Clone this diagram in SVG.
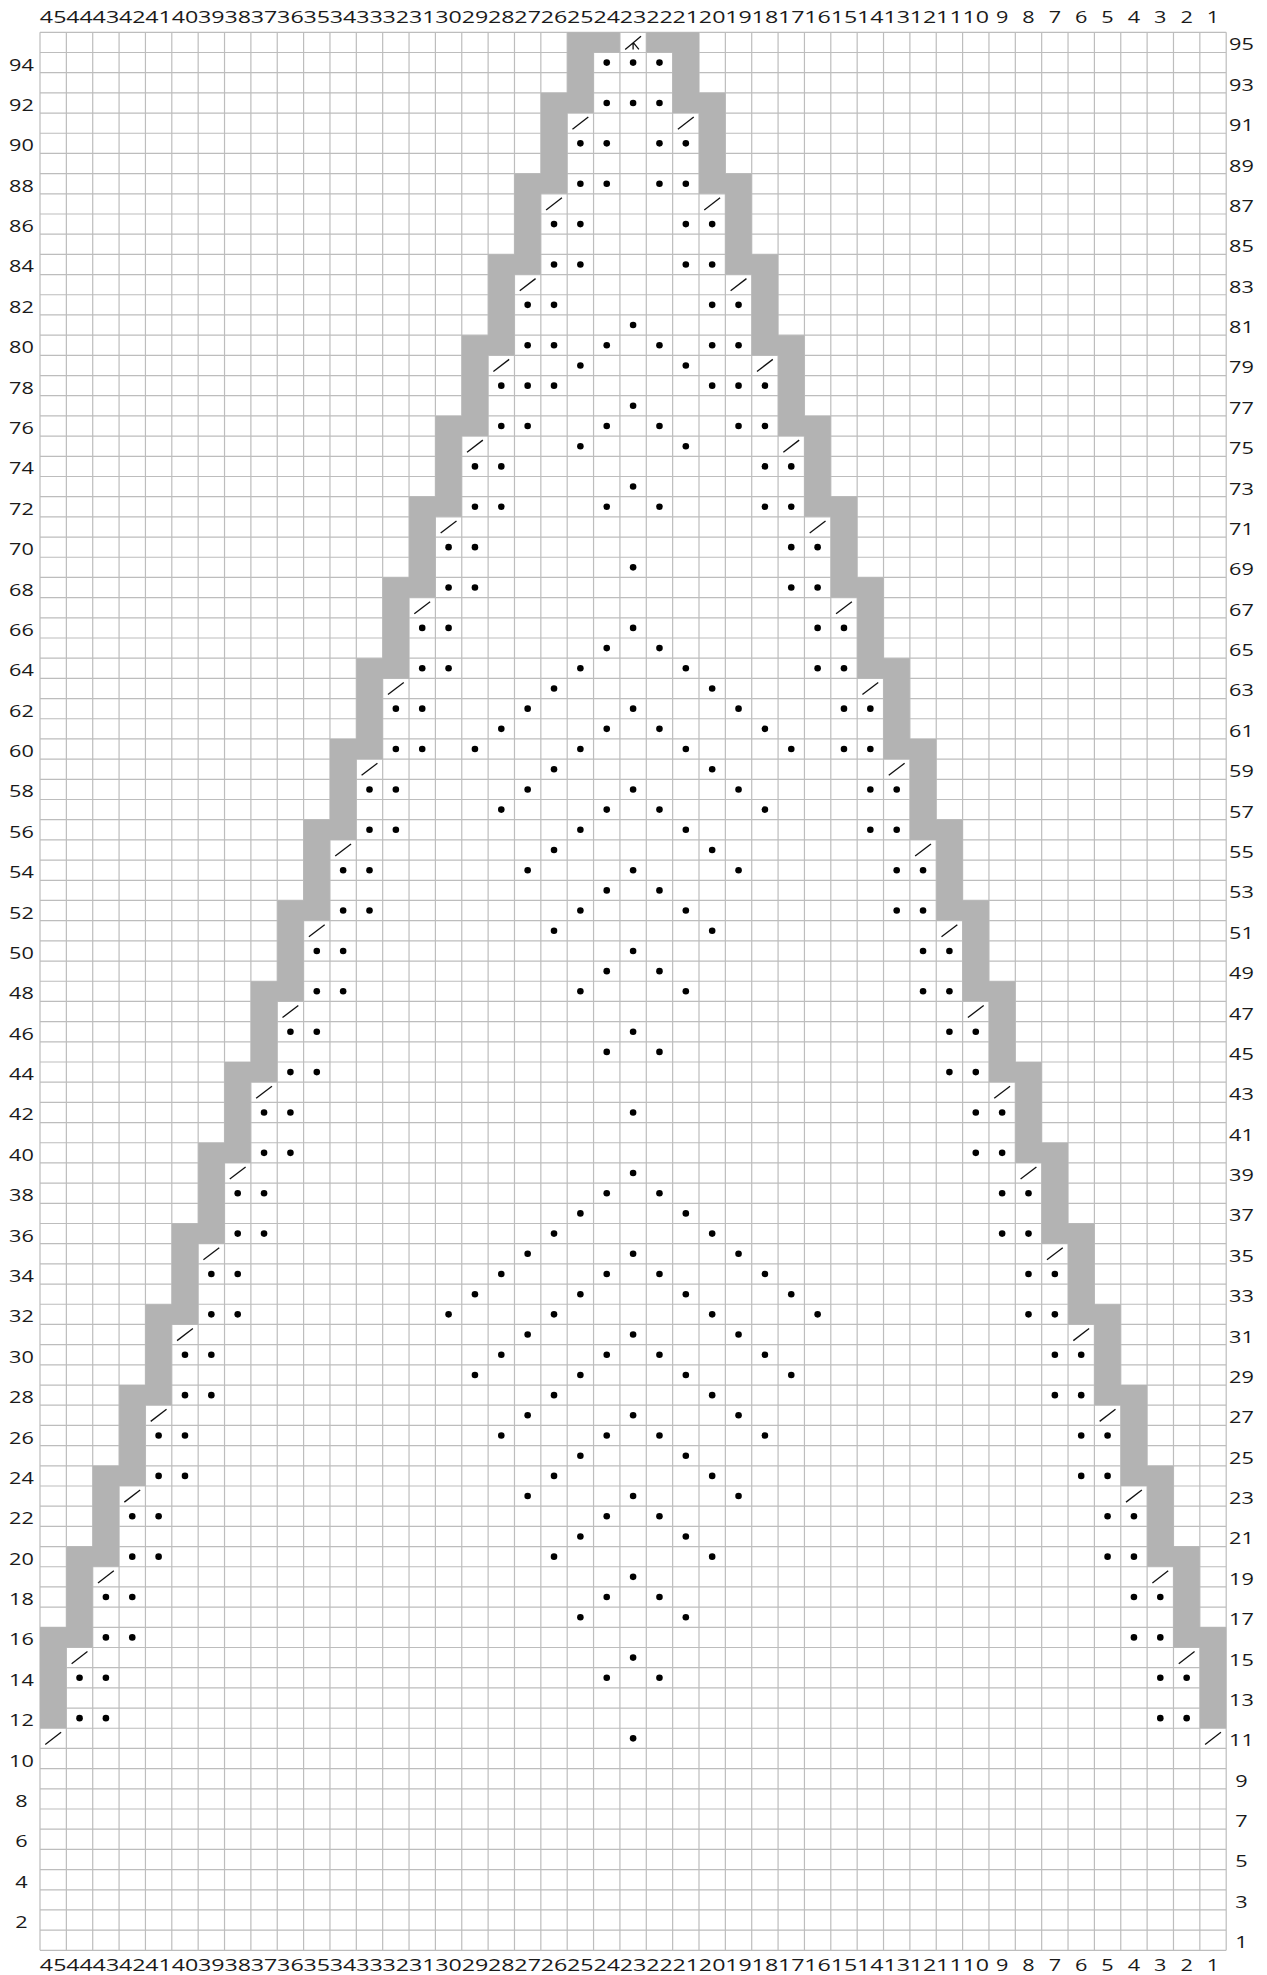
<svg xmlns="http://www.w3.org/2000/svg" xmlns:xlink="http://www.w3.org/1999/xlink" width="1267" height="1975" viewBox="0 0 1267 1975">
<style>
text{font-family:"Open Sans","Noto Sans","Liberation Sans",sans-serif;font-size:15.5px;fill:#1a1a1a;text-anchor:middle}
.c2{transform-box:fill-box;transform-origin:center;transform:scaleX(1.5)}
.c1{transform-box:fill-box;transform-origin:center;transform:scaleX(1.4)}
.gl{fill:none;stroke:#bdbdbd;stroke-width:1.2px}
.nss{vector-effect:non-scaling-stroke}
</style>
<defs>
<ellipse id="d" rx="0.125" ry="0.163" fill="#000"/>
<g id="p"><use href="#d"/><use href="#d" x="1"/></g>
<path id="s" d="M-0.3 0.3L0.3-0.3" fill="none" stroke="#111" stroke-width="1.3" vector-effect="non-scaling-stroke"/>
</defs>
<rect width="1267" height="1975" fill="#fff"/>
<g id="chart" transform="translate(40 32.3) scale(26.36 20.19)">
<g id="grid">
<path class="gl nss" d="M0 0V95M1 0V95M2 0V95M3 0V95M4 0V95M5 0V95M6 0V95M7 0V95M8 0V95M9 0V95M10 0V95M11 0V95M12 0V95M13 0V95M14 0V95M15 0V95M16 0V95M17 0V95M18 0V95M19 0V95M20 0V95M21 0V95M22 0V95M23 0V95M24 0V95M25 0V95M26 0V95M27 0V95M28 0V95M29 0V95M30 0V95M31 0V95M32 0V95M33 0V95M34 0V95M35 0V95M36 0V95M37 0V95M38 0V95M39 0V95M40 0V95M41 0V95M42 0V95M43 0V95M44 0V95M45 0V95M0 0H45M0 1H45M0 2H45M0 3H45M0 4H45M0 5H45M0 6H45M0 7H45M0 8H45M0 9H45M0 10H45M0 11H45M0 12H45M0 13H45M0 14H45M0 15H45M0 16H45M0 17H45M0 18H45M0 19H45M0 20H45M0 21H45M0 22H45M0 23H45M0 24H45M0 25H45M0 26H45M0 27H45M0 28H45M0 29H45M0 30H45M0 31H45M0 32H45M0 33H45M0 34H45M0 35H45M0 36H45M0 37H45M0 38H45M0 39H45M0 40H45M0 41H45M0 42H45M0 43H45M0 44H45M0 45H45M0 46H45M0 47H45M0 48H45M0 49H45M0 50H45M0 51H45M0 52H45M0 53H45M0 54H45M0 55H45M0 56H45M0 57H45M0 58H45M0 59H45M0 60H45M0 61H45M0 62H45M0 63H45M0 64H45M0 65H45M0 66H45M0 67H45M0 68H45M0 69H45M0 70H45M0 71H45M0 72H45M0 73H45M0 74H45M0 75H45M0 76H45M0 77H45M0 78H45M0 79H45M0 80H45M0 81H45M0 82H45M0 83H45M0 84H45M0 85H45M0 86H45M0 87H45M0 88H45M0 89H45M0 90H45M0 91H45M0 92H45M0 93H45M0 94H45M0 95H45"/>
</g>
<g id="no-stitch">
<path fill="#b3b3b3" d="M0 79h1v5h-1zM1 75h1v5h-1zM2 71h1v5h-1zM3 67h1v5h-1zM4 63h1v5h-1zM5 59h1v5h-1zM6 55h1v5h-1zM7 51h1v5h-1zM8 47h1v5h-1zM9 43h1v5h-1zM10 39h1v5h-1zM11 35h1v5h-1zM12 31h1v5h-1zM13 27h1v5h-1zM14 23h1v5h-1zM15 19h1v5h-1zM16 15h1v5h-1zM17 11h1v5h-1zM18 7h1v5h-1zM19 3h1v5h-1zM20 0h2v1h-1v3h-1zM44 79h1v5h-1zM43 75h1v5h-1zM42 71h1v5h-1zM41 67h1v5h-1zM40 63h1v5h-1zM39 59h1v5h-1zM38 55h1v5h-1zM37 51h1v5h-1zM36 47h1v5h-1zM35 43h1v5h-1zM34 39h1v5h-1zM33 35h1v5h-1zM32 31h1v5h-1zM31 27h1v5h-1zM30 23h1v5h-1zM29 19h1v5h-1zM28 15h1v5h-1zM27 11h1v5h-1zM26 7h1v5h-1zM25 3h1v5h-1zM23 0h2v4h-1v-3h-1z"/>
</g>
<g id="decreases">
<use href="#s" x="0.5" y="84.5"/><use href="#s" x="44.5" y="84.5"/>
<use href="#s" x="1.5" y="80.5"/><use href="#s" x="43.5" y="80.5"/>
<use href="#s" x="2.5" y="76.5"/><use href="#s" x="42.5" y="76.5"/>
<use href="#s" x="3.5" y="72.5"/><use href="#s" x="41.5" y="72.5"/>
<use href="#s" x="4.5" y="68.5"/><use href="#s" x="40.5" y="68.5"/>
<use href="#s" x="5.5" y="64.5"/><use href="#s" x="39.5" y="64.5"/>
<use href="#s" x="6.5" y="60.5"/><use href="#s" x="38.5" y="60.5"/>
<use href="#s" x="7.5" y="56.5"/><use href="#s" x="37.5" y="56.5"/>
<use href="#s" x="8.5" y="52.5"/><use href="#s" x="36.5" y="52.5"/>
<use href="#s" x="9.5" y="48.5"/><use href="#s" x="35.5" y="48.5"/>
<use href="#s" x="10.5" y="44.5"/><use href="#s" x="34.5" y="44.5"/>
<use href="#s" x="11.5" y="40.5"/><use href="#s" x="33.5" y="40.5"/>
<use href="#s" x="12.5" y="36.5"/><use href="#s" x="32.5" y="36.5"/>
<use href="#s" x="13.5" y="32.5"/><use href="#s" x="31.5" y="32.5"/>
<use href="#s" x="14.5" y="28.5"/><use href="#s" x="30.5" y="28.5"/>
<use href="#s" x="15.5" y="24.5"/><use href="#s" x="29.5" y="24.5"/>
<use href="#s" x="16.5" y="20.5"/><use href="#s" x="28.5" y="20.5"/>
<use href="#s" x="17.5" y="16.5"/><use href="#s" x="27.5" y="16.5"/>
<use href="#s" x="18.5" y="12.5"/><use href="#s" x="26.5" y="12.5"/>
<use href="#s" x="19.5" y="8.5"/><use href="#s" x="25.5" y="8.5"/>
<use href="#s" x="20.5" y="4.5"/><use href="#s" x="24.5" y="4.5"/>
<path d="M22.2 0.85L22.8 0.2M22.5 0.5V0.85M22.5 0.5L22.72 0.85" fill="none" stroke="#111" stroke-width="1.3" vector-effect="non-scaling-stroke"/>
</g>
<g id="edge-purls">
<use href="#p" x="1.5" y="83.5"/><use href="#p" x="1.5" y="81.5"/><use href="#p" x="42.5" y="83.5"/><use href="#p" x="42.5" y="81.5"/>
<use href="#p" x="2.5" y="79.5"/><use href="#p" x="2.5" y="77.5"/><use href="#p" x="41.5" y="79.5"/><use href="#p" x="41.5" y="77.5"/>
<use href="#p" x="3.5" y="75.5"/><use href="#p" x="3.5" y="73.5"/><use href="#p" x="40.5" y="75.5"/><use href="#p" x="40.5" y="73.5"/>
<use href="#p" x="4.5" y="71.5"/><use href="#p" x="4.5" y="69.5"/><use href="#p" x="39.5" y="71.5"/><use href="#p" x="39.5" y="69.5"/>
<use href="#p" x="5.5" y="67.5"/><use href="#p" x="5.5" y="65.5"/><use href="#p" x="38.5" y="67.5"/><use href="#p" x="38.5" y="65.5"/>
<use href="#p" x="6.5" y="63.5"/><use href="#p" x="6.5" y="61.5"/><use href="#p" x="37.5" y="63.5"/><use href="#p" x="37.5" y="61.5"/>
<use href="#p" x="7.5" y="59.5"/><use href="#p" x="7.5" y="57.5"/><use href="#p" x="36.5" y="59.5"/><use href="#p" x="36.5" y="57.5"/>
<use href="#p" x="8.5" y="55.5"/><use href="#p" x="8.5" y="53.5"/><use href="#p" x="35.5" y="55.5"/><use href="#p" x="35.5" y="53.5"/>
<use href="#p" x="9.5" y="51.5"/><use href="#p" x="9.5" y="49.5"/><use href="#p" x="34.5" y="51.5"/><use href="#p" x="34.5" y="49.5"/>
<use href="#p" x="10.5" y="47.5"/><use href="#p" x="10.5" y="45.5"/><use href="#p" x="33.5" y="47.5"/><use href="#p" x="33.5" y="45.5"/>
<use href="#p" x="11.5" y="43.5"/><use href="#p" x="11.5" y="41.5"/><use href="#p" x="32.5" y="43.5"/><use href="#p" x="32.5" y="41.5"/>
<use href="#p" x="12.5" y="39.5"/><use href="#p" x="12.5" y="37.5"/><use href="#p" x="31.5" y="39.5"/><use href="#p" x="31.5" y="37.5"/>
<use href="#p" x="13.5" y="35.5"/><use href="#p" x="13.5" y="33.5"/><use href="#p" x="30.5" y="35.5"/><use href="#p" x="30.5" y="33.5"/>
<use href="#p" x="14.5" y="31.5"/><use href="#p" x="14.5" y="29.5"/><use href="#p" x="29.5" y="31.5"/><use href="#p" x="29.5" y="29.5"/>
<use href="#p" x="15.5" y="27.5"/><use href="#p" x="15.5" y="25.5"/><use href="#p" x="28.5" y="27.5"/><use href="#p" x="28.5" y="25.5"/>
<use href="#p" x="16.5" y="23.5"/><use href="#p" x="16.5" y="21.5"/><use href="#p" x="27.5" y="23.5"/><use href="#p" x="27.5" y="21.5"/>
<use href="#p" x="17.5" y="19.5"/><use href="#p" x="17.5" y="17.5"/><use href="#p" x="26.5" y="19.5"/><use href="#p" x="26.5" y="17.5"/>
<use href="#p" x="18.5" y="15.5"/><use href="#p" x="18.5" y="13.5"/><use href="#p" x="25.5" y="15.5"/><use href="#p" x="25.5" y="13.5"/>
<use href="#p" x="19.5" y="11.5"/><use href="#p" x="19.5" y="9.5"/><use href="#p" x="24.5" y="11.5"/><use href="#p" x="24.5" y="9.5"/>
<use href="#p" x="20.5" y="7.5"/><use href="#p" x="20.5" y="5.5"/><use href="#p" x="23.5" y="7.5"/><use href="#p" x="23.5" y="5.5"/>
<use href="#p" x="21.5" y="3.5"/><use href="#p" x="21.5" y="1.5"/><use href="#d" x="23.5" y="3.5"/><use href="#d" x="23.5" y="1.5"/>
</g>
<g id="lace-purls">
<use href="#d" x="22.5" y="84.5"/>
<use href="#d" x="21.5" y="81.5"/><use href="#d" x="23.5" y="81.5"/>
<use href="#d" x="22.5" y="80.5"/>
<use href="#d" x="20.5" y="78.5"/><use href="#d" x="24.5" y="78.5"/>
<use href="#d" x="21.5" y="77.5"/><use href="#d" x="23.5" y="77.5"/>
<use href="#d" x="22.5" y="76.5"/>
<use href="#d" x="19.5" y="75.5"/><use href="#d" x="25.5" y="75.5"/>
<use href="#d" x="20.5" y="74.5"/><use href="#d" x="24.5" y="74.5"/>
<use href="#d" x="21.5" y="73.5"/><use href="#d" x="23.5" y="73.5"/>
<use href="#d" x="18.5" y="72.5"/><use href="#d" x="22.5" y="72.5"/><use href="#d" x="26.5" y="72.5"/>
<use href="#d" x="19.5" y="71.5"/><use href="#d" x="25.5" y="71.5"/>
<use href="#d" x="20.5" y="70.5"/><use href="#d" x="24.5" y="70.5"/>
<use href="#d" x="17.5" y="69.5"/><use href="#d" x="21.5" y="69.5"/><use href="#d" x="23.5" y="69.5"/><use href="#d" x="27.5" y="69.5"/>
<use href="#d" x="18.5" y="68.5"/><use href="#d" x="22.5" y="68.5"/><use href="#d" x="26.5" y="68.5"/>
<use href="#d" x="19.5" y="67.5"/><use href="#d" x="25.5" y="67.5"/>
<use href="#d" x="16.5" y="66.5"/><use href="#d" x="20.5" y="66.5"/><use href="#d" x="24.5" y="66.5"/><use href="#d" x="28.5" y="66.5"/>
<use href="#d" x="17.5" y="65.5"/><use href="#d" x="21.5" y="65.5"/><use href="#d" x="23.5" y="65.5"/><use href="#d" x="27.5" y="65.5"/>
<use href="#d" x="18.5" y="64.5"/><use href="#d" x="22.5" y="64.5"/><use href="#d" x="26.5" y="64.5"/>
<use href="#d" x="15.5" y="63.5"/><use href="#d" x="19.5" y="63.5"/><use href="#d" x="25.5" y="63.5"/><use href="#d" x="29.5" y="63.5"/>
<use href="#d" x="16.5" y="62.5"/><use href="#d" x="20.5" y="62.5"/><use href="#d" x="24.5" y="62.5"/><use href="#d" x="28.5" y="62.5"/>
<use href="#d" x="17.5" y="61.5"/><use href="#d" x="21.5" y="61.5"/><use href="#d" x="23.5" y="61.5"/><use href="#d" x="27.5" y="61.5"/>
<use href="#d" x="18.5" y="60.5"/><use href="#d" x="22.5" y="60.5"/><use href="#d" x="26.5" y="60.5"/>
<use href="#d" x="19.5" y="59.5"/><use href="#d" x="25.5" y="59.5"/>
<use href="#d" x="20.5" y="58.5"/><use href="#d" x="24.5" y="58.5"/>
<use href="#d" x="21.5" y="57.5"/><use href="#d" x="23.5" y="57.5"/>
<use href="#d" x="22.5" y="56.5"/>
<use href="#d" x="22.5" y="53.5"/>
<use href="#d" x="21.5" y="50.5"/><use href="#d" x="23.5" y="50.5"/>
<use href="#d" x="22.5" y="49.5"/>
<use href="#d" x="20.5" y="47.5"/><use href="#d" x="24.5" y="47.5"/>
<use href="#d" x="21.5" y="46.5"/><use href="#d" x="23.5" y="46.5"/>
<use href="#d" x="22.5" y="45.5"/>
<use href="#d" x="19.5" y="44.5"/><use href="#d" x="25.5" y="44.5"/>
<use href="#d" x="20.5" y="43.5"/><use href="#d" x="24.5" y="43.5"/>
<use href="#d" x="21.5" y="42.5"/><use href="#d" x="23.5" y="42.5"/>
<use href="#d" x="18.5" y="41.5"/><use href="#d" x="22.5" y="41.5"/><use href="#d" x="26.5" y="41.5"/>
<use href="#d" x="19.5" y="40.5"/><use href="#d" x="25.5" y="40.5"/>
<use href="#d" x="20.5" y="39.5"/><use href="#d" x="24.5" y="39.5"/>
<use href="#d" x="17.5" y="38.5"/><use href="#d" x="21.5" y="38.5"/><use href="#d" x="23.5" y="38.5"/><use href="#d" x="27.5" y="38.5"/>
<use href="#d" x="18.5" y="37.5"/><use href="#d" x="22.5" y="37.5"/><use href="#d" x="26.5" y="37.5"/>
<use href="#d" x="19.5" y="36.5"/><use href="#d" x="25.5" y="36.5"/>
<use href="#d" x="16.5" y="35.5"/><use href="#d" x="20.5" y="35.5"/><use href="#d" x="24.5" y="35.5"/><use href="#d" x="28.5" y="35.5"/>
<use href="#d" x="17.5" y="34.5"/><use href="#d" x="21.5" y="34.5"/><use href="#d" x="23.5" y="34.5"/><use href="#d" x="27.5" y="34.5"/>
<use href="#d" x="18.5" y="33.5"/><use href="#d" x="22.5" y="33.5"/><use href="#d" x="26.5" y="33.5"/>
<use href="#d" x="19.5" y="32.5"/><use href="#d" x="25.5" y="32.5"/>
<use href="#d" x="20.5" y="31.5"/><use href="#d" x="24.5" y="31.5"/>
<use href="#d" x="21.5" y="30.5"/><use href="#d" x="23.5" y="30.5"/>
<use href="#d" x="22.5" y="29.5"/>
<use href="#d" x="22.5" y="26.5"/>
<use href="#d" x="21.5" y="23.5"/><use href="#d" x="23.5" y="23.5"/>
<use href="#d" x="22.5" y="22.5"/>
<use href="#d" x="20.5" y="20.5"/><use href="#d" x="24.5" y="20.5"/>
<use href="#d" x="21.5" y="19.5"/><use href="#d" x="23.5" y="19.5"/>
<use href="#d" x="22.5" y="18.5"/>
<use href="#d" x="19.5" y="17.5"/><use href="#d" x="25.5" y="17.5"/>
<use href="#d" x="20.5" y="16.5"/><use href="#d" x="24.5" y="16.5"/>
<use href="#d" x="21.5" y="15.5"/><use href="#d" x="23.5" y="15.5"/>
<use href="#d" x="22.5" y="14.5"/>
</g>
</g>
<g id="col-labels-top">
<text class="c2" x="53.18" y="23.3">45</text><text class="c2" x="79.54" y="23.3">44</text><text class="c2" x="105.9" y="23.3">43</text><text class="c2" x="132.26" y="23.3">42</text><text class="c2" x="158.62" y="23.3">41</text><text class="c2" x="184.98" y="23.3">40</text><text class="c2" x="211.34" y="23.3">39</text><text class="c2" x="237.7" y="23.3">38</text><text class="c2" x="264.06" y="23.3">37</text><text class="c2" x="290.42" y="23.3">36</text><text class="c2" x="316.78" y="23.3">35</text><text class="c2" x="343.14" y="23.3">34</text><text class="c2" x="369.5" y="23.3">33</text><text class="c2" x="395.86" y="23.3">32</text><text class="c2" x="422.22" y="23.3">31</text><text class="c2" x="448.58" y="23.3">30</text><text class="c2" x="474.94" y="23.3">29</text><text class="c2" x="501.3" y="23.3">28</text><text class="c2" x="527.66" y="23.3">27</text><text class="c2" x="554.02" y="23.3">26</text><text class="c2" x="580.38" y="23.3">25</text><text class="c2" x="606.74" y="23.3">24</text><text class="c2" x="633.1" y="23.3">23</text><text class="c2" x="659.46" y="23.3">22</text><text class="c2" x="685.82" y="23.3">21</text><text class="c2" x="712.18" y="23.3">20</text><text class="c2" x="738.54" y="23.3">19</text><text class="c2" x="764.9" y="23.3">18</text><text class="c2" x="791.26" y="23.3">17</text><text class="c2" x="817.62" y="23.3">16</text><text class="c2" x="843.98" y="23.3">15</text><text class="c2" x="870.34" y="23.3">14</text><text class="c2" x="896.7" y="23.3">13</text><text class="c2" x="923.06" y="23.3">12</text><text class="c2" x="949.42" y="23.3">11</text><text class="c2" x="975.78" y="23.3">10</text><text class="c1" x="1002.14" y="23.3">9</text><text class="c1" x="1028.5" y="23.3">8</text><text class="c1" x="1054.86" y="23.3">7</text><text class="c1" x="1081.22" y="23.3">6</text><text class="c1" x="1107.58" y="23.3">5</text><text class="c1" x="1133.94" y="23.3">4</text><text class="c1" x="1160.3" y="23.3">3</text><text class="c1" x="1186.66" y="23.3">2</text><text class="c1" x="1213.02" y="23.3">1</text>
</g>
<g id="col-labels-bottom">
<text class="c2" x="53.18" y="1971">45</text><text class="c2" x="79.54" y="1971">44</text><text class="c2" x="105.9" y="1971">43</text><text class="c2" x="132.26" y="1971">42</text><text class="c2" x="158.62" y="1971">41</text><text class="c2" x="184.98" y="1971">40</text><text class="c2" x="211.34" y="1971">39</text><text class="c2" x="237.7" y="1971">38</text><text class="c2" x="264.06" y="1971">37</text><text class="c2" x="290.42" y="1971">36</text><text class="c2" x="316.78" y="1971">35</text><text class="c2" x="343.14" y="1971">34</text><text class="c2" x="369.5" y="1971">33</text><text class="c2" x="395.86" y="1971">32</text><text class="c2" x="422.22" y="1971">31</text><text class="c2" x="448.58" y="1971">30</text><text class="c2" x="474.94" y="1971">29</text><text class="c2" x="501.3" y="1971">28</text><text class="c2" x="527.66" y="1971">27</text><text class="c2" x="554.02" y="1971">26</text><text class="c2" x="580.38" y="1971">25</text><text class="c2" x="606.74" y="1971">24</text><text class="c2" x="633.1" y="1971">23</text><text class="c2" x="659.46" y="1971">22</text><text class="c2" x="685.82" y="1971">21</text><text class="c2" x="712.18" y="1971">20</text><text class="c2" x="738.54" y="1971">19</text><text class="c2" x="764.9" y="1971">18</text><text class="c2" x="791.26" y="1971">17</text><text class="c2" x="817.62" y="1971">16</text><text class="c2" x="843.98" y="1971">15</text><text class="c2" x="870.34" y="1971">14</text><text class="c2" x="896.7" y="1971">13</text><text class="c2" x="923.06" y="1971">12</text><text class="c2" x="949.42" y="1971">11</text><text class="c2" x="975.78" y="1971">10</text><text class="c1" x="1002.14" y="1971">9</text><text class="c1" x="1028.5" y="1971">8</text><text class="c1" x="1054.86" y="1971">7</text><text class="c1" x="1081.22" y="1971">6</text><text class="c1" x="1107.58" y="1971">5</text><text class="c1" x="1133.94" y="1971">4</text><text class="c1" x="1160.3" y="1971">3</text><text class="c1" x="1186.66" y="1971">2</text><text class="c1" x="1213.02" y="1971">1</text>
</g>
<g id="row-labels-left">
<text class="c1" x="21.5" y="70.59">94</text><text class="c1" x="21.5" y="110.97">92</text><text class="c1" x="21.5" y="151.35">90</text><text class="c1" x="21.5" y="191.73">88</text><text class="c1" x="21.5" y="232.11">86</text><text class="c1" x="21.5" y="272.49">84</text><text class="c1" x="21.5" y="312.87">82</text><text class="c1" x="21.5" y="353.25">80</text><text class="c1" x="21.5" y="393.63">78</text><text class="c1" x="21.5" y="434.01">76</text><text class="c1" x="21.5" y="474.39">74</text><text class="c1" x="21.5" y="514.77">72</text><text class="c1" x="21.5" y="555.15">70</text><text class="c1" x="21.5" y="595.53">68</text><text class="c1" x="21.5" y="635.91">66</text><text class="c1" x="21.5" y="676.29">64</text><text class="c1" x="21.5" y="716.67">62</text><text class="c1" x="21.5" y="757.05">60</text><text class="c1" x="21.5" y="797.43">58</text><text class="c1" x="21.5" y="837.81">56</text><text class="c1" x="21.5" y="878.19">54</text><text class="c1" x="21.5" y="918.57">52</text><text class="c1" x="21.5" y="958.95">50</text><text class="c1" x="21.5" y="999.33">48</text><text class="c1" x="21.5" y="1039.71">46</text><text class="c1" x="21.5" y="1080.09">44</text><text class="c1" x="21.5" y="1120.47">42</text><text class="c1" x="21.5" y="1160.85">40</text><text class="c1" x="21.5" y="1201.23">38</text><text class="c1" x="21.5" y="1241.61">36</text><text class="c1" x="21.5" y="1281.99">34</text><text class="c1" x="21.5" y="1322.37">32</text><text class="c1" x="21.5" y="1362.75">30</text><text class="c1" x="21.5" y="1403.13">28</text><text class="c1" x="21.5" y="1443.51">26</text><text class="c1" x="21.5" y="1483.89">24</text><text class="c1" x="21.5" y="1524.27">22</text><text class="c1" x="21.5" y="1564.65">20</text><text class="c1" x="21.5" y="1605.03">18</text><text class="c1" x="21.5" y="1645.41">16</text><text class="c1" x="21.5" y="1685.79">14</text><text class="c1" x="21.5" y="1726.17">12</text><text class="c1" x="21.5" y="1766.55">10</text><text class="c1" x="21.5" y="1806.93">8</text><text class="c1" x="21.5" y="1847.31">6</text><text class="c1" x="21.5" y="1887.69">4</text><text class="c1" x="21.5" y="1928.07">2</text>
</g>
<g id="row-labels-right">
<text class="c1" x="1241.5" y="50.4">95</text><text class="c1" x="1241.5" y="90.78">93</text><text class="c1" x="1241.5" y="131.16">91</text><text class="c1" x="1241.5" y="171.54">89</text><text class="c1" x="1241.5" y="211.92">87</text><text class="c1" x="1241.5" y="252.3">85</text><text class="c1" x="1241.5" y="292.68">83</text><text class="c1" x="1241.5" y="333.06">81</text><text class="c1" x="1241.5" y="373.44">79</text><text class="c1" x="1241.5" y="413.82">77</text><text class="c1" x="1241.5" y="454.2">75</text><text class="c1" x="1241.5" y="494.58">73</text><text class="c1" x="1241.5" y="534.96">71</text><text class="c1" x="1241.5" y="575.34">69</text><text class="c1" x="1241.5" y="615.72">67</text><text class="c1" x="1241.5" y="656.1">65</text><text class="c1" x="1241.5" y="696.48">63</text><text class="c1" x="1241.5" y="736.86">61</text><text class="c1" x="1241.5" y="777.24">59</text><text class="c1" x="1241.5" y="817.62">57</text><text class="c1" x="1241.5" y="858">55</text><text class="c1" x="1241.5" y="898.38">53</text><text class="c1" x="1241.5" y="938.76">51</text><text class="c1" x="1241.5" y="979.14">49</text><text class="c1" x="1241.5" y="1019.52">47</text><text class="c1" x="1241.5" y="1059.9">45</text><text class="c1" x="1241.5" y="1100.28">43</text><text class="c1" x="1241.5" y="1140.66">41</text><text class="c1" x="1241.5" y="1181.04">39</text><text class="c1" x="1241.5" y="1221.42">37</text><text class="c1" x="1241.5" y="1261.8">35</text><text class="c1" x="1241.5" y="1302.18">33</text><text class="c1" x="1241.5" y="1342.56">31</text><text class="c1" x="1241.5" y="1382.94">29</text><text class="c1" x="1241.5" y="1423.32">27</text><text class="c1" x="1241.5" y="1463.7">25</text><text class="c1" x="1241.5" y="1504.08">23</text><text class="c1" x="1241.5" y="1544.46">21</text><text class="c1" x="1241.5" y="1584.84">19</text><text class="c1" x="1241.5" y="1625.22">17</text><text class="c1" x="1241.5" y="1665.6">15</text><text class="c1" x="1241.5" y="1705.98">13</text><text class="c1" x="1241.5" y="1746.36">11</text><text class="c1" x="1241.5" y="1786.74">9</text><text class="c1" x="1241.5" y="1827.12">7</text><text class="c1" x="1241.5" y="1867.5">5</text><text class="c1" x="1241.5" y="1907.88">3</text><text class="c1" x="1241.5" y="1948.26">1</text>
</g>
</svg>
